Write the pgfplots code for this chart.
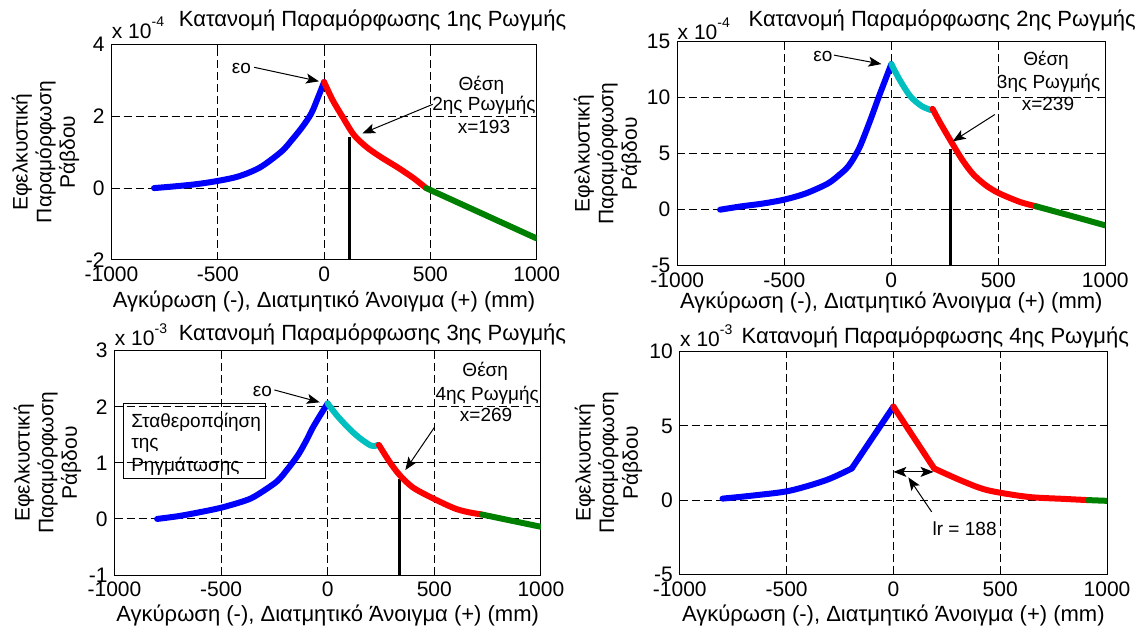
\documentclass[border=0pt]{standalone}
\usepackage{pgfplots}
\pgfplotsset{compat=1.18}
\usepackage{fontspec}
\setmainfont{Liberation Sans}
\usetikzlibrary{arrows.meta}
\newcommand{\fs}{\fontsize{10.5}{11.8}\selectfont}
\newcommand{\ft}{\fontsize{11}{12}\selectfont}
\newcommand{\fa}{\fontsize{9.5}{11}\selectfont}
\definecolor{mblue}{rgb}{0,0,1}
\definecolor{mred}{rgb}{1,0,0}
\definecolor{mcyan}{rgb}{0,0.75,0.75}
\definecolor{mgreen}{rgb}{0,0.5,0}
\tikzset{arr/.style={line width=0.5pt,-{Stealth[length=6.5pt,width=5pt,inset=1.5pt]}},
  ann/.style={font=\fa, inner sep=0pt}}
\pgfplotsset{
  mat/.style={
    scale only axis, anchor=south west, clip mode=individual,
    xmin=-1000, xmax=1000, xtick={-1000,-500,0,500,1000},
    grid=major,
    major grid style={black, line width=0.5pt, dash pattern=on 4pt off 2pt},
    tick align=inside, major tick length=3pt,
    tick style={black, line width=0.5pt},
    axis line style={line width=0.5pt},
    ticklabel style={font=\fs},
    /pgf/number format/assume math mode=true,
    /pgf/number format/1000 sep={},
    xlabel={Αγκύρωση (-), Διατμητικό Άνοιγμα (+) (mm)},
    ylabel={Εφελκυστική\\Παραμόρφωση\\Ράβδου},
    label style={font=\fs},
    xlabel style={at={(axis description cs:0.5,0)}, anchor=base, font=\ft},
    ylabel style={anchor=center, align=center},
    every axis plot/.append style={line width=3pt, line join=round, line cap=round},
  }
}
\begin{document}
\begin{tikzpicture}
\useasboundingbox (0,0) rectangle (572pt,315.5pt);
% ---------------- plot 1
\begin{axis}[mat, at={(55.75pt,185.5pt)}, width=212.6pt, height=107.85pt,
  ymin=-2, ymax=4, ytick={-2,0,2,4},
  ylabel style={at={(axis description cs:-0.155,0.5)}},
  xlabel style={yshift=-24pt}]
\addplot[black, line width=1.6pt, line cap=butt] coordinates {(120,-2) (120,1.42)};
\addplot[mblue, smooth] coordinates {(-800,0) (-700,0.05) (-600,0.11) (-500,0.2) (-400,0.33) (-300,0.58) (-200,1.02) (-150,1.35) (-100,1.72) (-60,2.08) (-30,2.5) (0,2.95)};
\addplot[mred, smooth] coordinates {(0,2.95) (40,2.45) (85,2.0) (140,1.48) (200,1.14) (265,0.87) (350,0.56) (420,0.28) (480,0)};
\addplot[mgreen] coordinates {(480,0) (740,-0.7) (1000,-1.4)};
\node[ann] at (axis cs:-389,3.34) {εο};
\draw[arr] (axis cs:-329,3.36) -- (axis cs:-24,2.97);
\node[ann] at (axis cs:740,2.87) {Θέση};
\node[ann] at (axis cs:752,2.29) {2ης Ρωγμής};
\node[ann] at (axis cs:752,1.70) {x=193};
\draw[arr] (axis cs:511,2.33) -- (axis cs:180,1.52);
\node[anchor=base west, inner sep=0pt, font=\fs] at (rel axis cs:0,1) [yshift=3pt] {x 10\raisebox{6pt}{\fontsize{7}{8}\selectfont -4}};
\node[anchor=base, inner sep=0pt, font=\ft] at (rel axis cs:0.614,1) [yshift=8.8pt] {Κατανομή Παραμόρφωσης 1ης Ρωγμής};
\end{axis}
% ---------------- plot 2
\begin{axis}[mat, at={(338.65pt,182.65pt)}, width=214pt, height=112pt,
  ymin=-5, ymax=15, ytick={-5,0,5,10,15},
  ylabel style={at={(axis description cs:-0.163,0.5)}},
  xlabel style={yshift=-21.3pt}]
\addplot[black, line width=1.6pt, line cap=butt] coordinates {(275,-5) (275,5.4)};
\addplot[mblue, smooth] coordinates {(-800,0) (-700,0.3) (-600,0.55) (-500,0.9) (-400,1.45) (-300,2.3) (-250,3.0) (-200,3.9) (-150,5.5) (-100,7.9) (-60,10.0) (-30,11.5) (0,13)};
\addplot[mcyan, smooth] coordinates {(0,13) (39,11.6) (90,10.1) (142,9.25) (185,8.9)};
\addplot[mred, smooth] coordinates {(193,9.0) (227,7.8) (279,6.1) (330,4.5) (381,3.2) (440,2.2) (500,1.5) (600,0.7) (677,0.3)};
\addplot[mgreen] coordinates {(677,0.3) (840,-0.55) (1000,-1.4)};
\node[ann] at (axis cs:-320,13.7) {εο};
\draw[arr] (axis cs:-268,13.8) -- (axis cs:-46,13.0);
\node[ann] at (axis cs:723,13.3) {Θέση};
\node[ann] at (axis cs:735,11.3) {3ης Ρωγμής};
\node[ann] at (axis cs:732,9.4) {x=239};
\draw[arr] (axis cs:484,8.5) -- (axis cs:287,6.1);
\node[anchor=base west, inner sep=0pt, font=\fs] at (rel axis cs:0,1) [yshift=1.2pt] {x 10\raisebox{6pt}{\fontsize{7}{8}\selectfont -4}};
\node[anchor=base, inner sep=0pt, font=\ft] at (rel axis cs:0.619,1) [yshift=7.5pt] {Κατανομή Παραμόρφωσης 2ης Ρωγμής};
\end{axis}
% ---------------- plot 3
\begin{axis}[mat, at={(57.25pt,28pt)}, width=213.2pt, height=112.15pt,
  ymin=-1, ymax=3, ytick={-1,0,1,2,3},
  ylabel style={at={(axis description cs:-0.157,0.5)}},
  xlabel style={yshift=-23.3pt}]
\addplot[black, line width=1.6pt, line cap=butt] coordinates {(335,-1) (335,0.72)};
\addplot[mblue, smooth] coordinates {(-800,0) (-700,0.05) (-600,0.12) (-500,0.2) (-400,0.31) (-343,0.4) (-241,0.66) (-190,0.88) (-139,1.14) (-100,1.4) (-71,1.62) (-35,1.85) (0,2.06)};
\addplot[mcyan, smooth] coordinates {(0,2.06) (40,1.86) (83,1.68) (120,1.54) (151,1.44) (180,1.36) (202,1.31) (220,1.3) (235,1.32)};
\addplot[mred, smooth] coordinates {(240,1.32) (290,1.02) (338,0.78) (400,0.56) (492,0.37) (594,0.19) (660,0.12) (722,0.08)};
\addplot[mgreen] coordinates {(722,0.08) (860,-0.03) (1000,-0.14)};
\node[ann] at (axis cs:-306,2.28) {εο};
\draw[arr] (axis cs:-250,2.30) -- (axis cs:-37,2.08);
\node[ann] at (axis cs:739,2.63) {Θέση};
\node[ann] at (axis cs:748,2.21) {4ης Ρωγμής};
\node[ann] at (axis cs:743,1.85) {x=269};
\draw[arr] (axis cs:500,1.63) -- (axis cs:364,0.87);
\draw[line width=0.5pt] (axis cs:-957,0.72) rectangle (axis cs:-292,2.06);
\node[ann, anchor=west] at (axis cs:-923,1.73) {Σταθεροποίηση};
\node[ann, anchor=west] at (axis cs:-923,1.32) {της};
\node[ann, anchor=west] at (axis cs:-923,0.93) {Ρηγμάτωσης};
\node[anchor=base west, inner sep=0pt, font=\fs] at (rel axis cs:0,1) [yshift=2.5pt] {x 10\raisebox{6pt}{\fontsize{7}{8}\selectfont -3}};
\node[anchor=base, inner sep=0pt, font=\ft] at (rel axis cs:0.605,1) [yshift=5.35pt] {Κατανομή Παραμόρφωσης 3ης Ρωγμής};
\end{axis}
% ---------------- plot 4
\begin{axis}[mat, at={(339.9pt,28.35pt)}, width=213.6pt, height=111.3pt,
  ymin=-5, ymax=10, ytick={-5,0,5,10},
  ylabel style={at={(axis description cs:-0.167,0.5)}},
  xlabel style={yshift=-23.7pt}]
\addplot[mblue, smooth] coordinates {(-800,0.1) (-650,0.32) (-486,0.63) (-314,1.35) (-195,2.13)};
\addplot[mblue] coordinates {(-195,2.13) (0,6.3)};
\addplot[mred] coordinates {(0,6.3) (191,2.13)};
\addplot[mred, smooth] coordinates {(191,2.13) (320,1.3) (440,0.67) (628,0.22) (800,0.08) (911,0)};
\addplot[mgreen] coordinates {(911,0) (1000,-0.05)};
\draw[line width=0.5pt,{Stealth[length=6.5pt,width=5pt,inset=1.5pt]}-{Stealth[length=6.5pt,width=5pt,inset=1.5pt]}] (axis cs:0,1.9) -- (axis cs:188,1.9);
\draw[arr] (axis cs:179,-0.79) -- (axis cs:70,1.53);
\node[ann, anchor=west] at (axis cs:182,-1.9) {lr = 188};
\node[anchor=base west, inner sep=0pt, font=\fs] at (rel axis cs:0,1) [yshift=2.8pt] {x 10\raisebox{6pt}{\fontsize{7}{8}\selectfont -3}};
\node[anchor=base, inner sep=0pt, font=\ft] at (rel axis cs:0.598,1) [yshift=4.2pt] {Κατανομή Παραμόρφωσης 4ης Ρωγμής};
\end{axis}
\end{tikzpicture}
\end{document}
